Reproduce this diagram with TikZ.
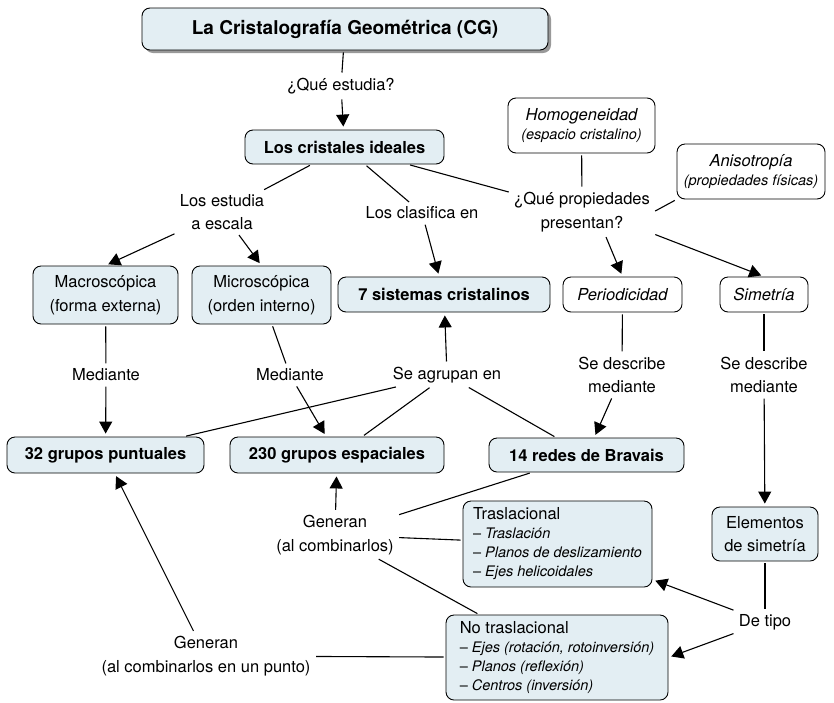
\documentclass[tikz,border=0pt]{standalone}
\usepackage{fontspec}
\setmainfont{TeX Gyre Heros}
\usepackage{tikz}
\usetikzlibrary{arrows.meta,shadows}

\definecolor{cmapblue}{RGB}{227,238,243}
\newcommand{\bigtxt}{\fontsize{16.5}{23.5}\selectfont}
\newcommand{\smalltxt}{\fontsize{14.5}{19}\selectfont}

\begin{document}
\begin{tikzpicture}[x=1pt,y=-1pt,>={Triangle[length=12pt,width=13pt]},
  line width=1.1pt,
  concept/.style={draw,line width=0.9pt,rounded corners=8pt,fill=cmapblue,
    inner sep=2pt,align=center,font=\bigtxt},
  key concept/.style={concept,font=\bigtxt\bfseries},
  open concept/.style={concept,fill=white,font=\bigtxt\itshape},
  list concept/.style={concept,align=left,inner xsep=7pt,font=\fontsize{16.5}{19}\selectfont},
  phrase/.style={align=center,inner sep=3pt,font=\bigtxt},
  link/.style={draw,shorten <=2pt,shorten >=2pt},
  arrow link/.style={draw,->,shorten <=2pt,shorten >=3pt}]

  \useasboundingbox (0,0) rectangle (834,702);

  % concepts
  \node[key concept,minimum width=406pt,minimum height=42pt,
    font=\fontsize{19}{23}\selectfont\bfseries,
    drop shadow={shadow xshift=3pt,shadow yshift=-3pt,fill=black!40,opacity=1}]
    (cg) at (345,29) {La Cristalografía Geométrica (CG)};
  \node[key concept,minimum width=199pt,minimum height=34pt] (ideal) at (344.5,147) {Los cristales ideales};
  \node[open concept,minimum width=147pt,minimum height=55pt] (homog) at (581.5,125.5)
    {Homogeneidad\\[-4pt]{\smalltxt (espacio cristalino)}};
  \node[open concept,minimum width=148pt,minimum height=55pt] (aniso) at (751,171.5)
    {Anisotropía\\[-4pt]{\smalltxt (propiedades físicas)}};
  \node[concept,minimum width=145pt,minimum height=58pt] (macro) at (105.5,295) {Macroscópica\\(forma externa)};
  \node[concept,minimum width=139pt,minimum height=58pt] (micro) at (261.5,295) {Microscópica\\(orden interno)};
  \node[key concept,minimum width=212pt,minimum height=35pt] (siete) at (444,294.5) {7 sistemas cristalinos};
  \node[open concept,minimum width=119pt,minimum height=35pt] (period) at (622.5,294.5) {Periodicidad};
  \node[open concept,minimum width=88pt,minimum height=35pt] (simet) at (764,294.5) {Simetría};
  \node[key concept,minimum width=197pt,minimum height=36pt] (puntual) at (105.5,455) {32 grupos puntuales};
  \node[key concept,minimum width=214pt,minimum height=36pt] (espacial) at (337,455) {230 grupos espaciales};
  \node[key concept,minimum width=195pt,minimum height=34pt] (bravais) at (586.5,455) {14 redes de Bravais};
  \node[concept,minimum width=106pt,minimum height=54pt] (elem) at (765,534) {Elementos\\de simetría};
  \node[list concept,minimum width=189pt,minimum height=86pt] (tras) at (557.5,544)
    {Traslacional\\
     {\smalltxt -- \textit{Traslación}}\\
     {\smalltxt -- \textit{Planos de deslizamiento}}\\
     {\smalltxt -- \textit{Ejes helicoidales}}};
  \node[list concept,minimum width=222pt,minimum height=85pt] (notras) at (557,657.5)
    {No traslacional\\
     {\smalltxt -- \textit{Ejes (rotación, rotoinversión)}}\\
     {\smalltxt -- \textit{Planos (reflexión)}}\\
     {\smalltxt -- \textit{Centros (inversión)}}};

  % linking phrases
  \node[phrase] (estudia) at (341,86) {¿Qué estudia?};
  \node[phrase] (escala) at (222,212) {Los estudia\\a escala};
  \node[phrase] (clasif) at (422,213) {Los clasifica en};
  \node[phrase] (props) at (582,212) {¿Qué propiedades\\presentan?};
  \node[phrase] (med1) at (106,375) {Mediante};
  \node[phrase] (med2) at (290,375) {Mediante};
  \node[phrase] (agrup) at (447,375) {Se agrupan en};
  \node[phrase] (desc1) at (622,375) {Se describe\\mediante};
  \node[phrase] (desc2) at (764,375) {Se describe\\mediante};
  \node[phrase] (tipo) at (765,622) {De tipo};
  \node[phrase] (gen1) at (335,535) {Generan\\(al combinarlos)};
  \node[phrase] (gen2) at (206,656) {Generan\\(al combinarlos en un punto)};

  \path
    (cg) edge[link] (estudia)
    (estudia) edge[arrow link] (ideal)
    (ideal) edge[link] (escala)
    (escala) edge[arrow link] (macro.north)
    (escala) edge[arrow link] (micro.north)
    (ideal) edge[link] (clasif)
    (clasif) edge[arrow link] (siete)
    (ideal) edge[link] (props)
    (homog) edge[link] (props)
    (aniso.south west) edge[link] (props.east)
    (props.-45) edge[arrow link] (period.north)
    (props.-17) edge[arrow link] (simet.north)
    (macro) edge[link] (med1)
    (med1) edge[arrow link] (puntual)
    (micro) edge[link] (med2)
    (med2) edge[arrow link] (espacial)
    (puntual) edge[link] (agrup)
    (espacial) edge[link] (agrup)
    (bravais) edge[link] (agrup)
    (agrup) edge[arrow link] (siete)
    (period) edge[link] (desc1)
    (desc1) edge[arrow link] (bravais)
    (simet) edge[link] (desc2)
    (desc2) edge[arrow link] (elem)
    (elem) edge[link] (tipo)
    (tipo) edge[arrow link] (tras)
    (tipo) edge[arrow link] (notras.east)
    (bravais) edge[link] (gen1)
    (tras) edge[link] (gen1)
    (notras) edge[link] (gen1)
    (gen1) edge[arrow link] (espacial)
    (notras) edge[link] (gen2)
    (gen2) edge[arrow link] (puntual);
\end{tikzpicture}
\end{document}
